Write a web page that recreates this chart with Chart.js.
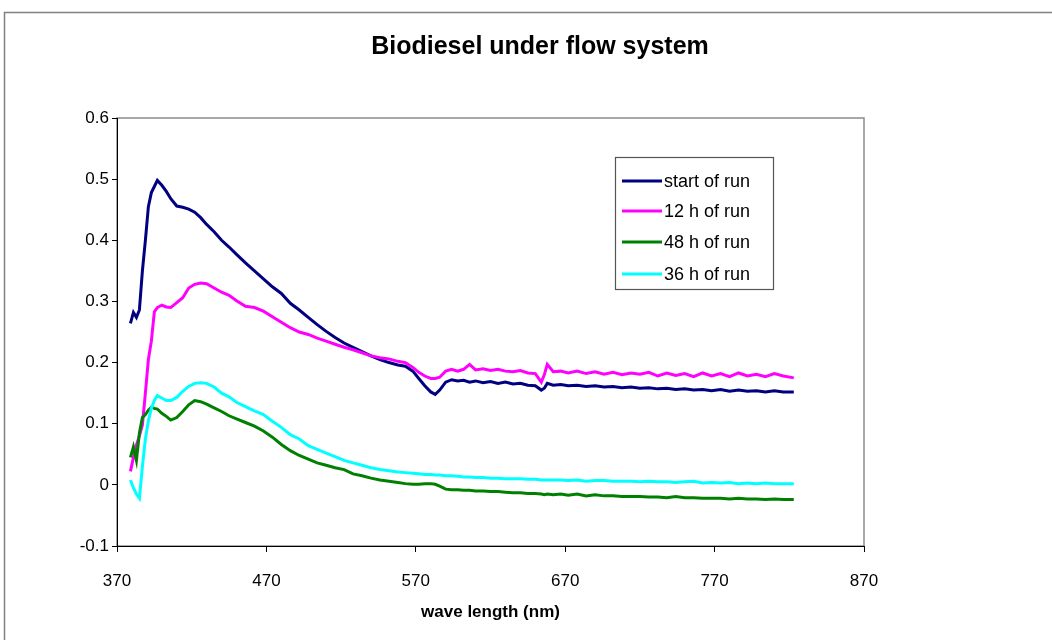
<!DOCTYPE html>
<html>
<head>
<meta charset="utf-8">
<script src="https://cdn.jsdelivr.net/npm/chart.js@4.4.1/dist/chart.umd.min.js"></script>
<style>
  html, body { margin: 0; padding: 0; background: #ffffff; }
  #wrap { width: 1052px; height: 640px; position: relative; }
</style>
</head>
<body>
<div id="wrap"><canvas id="c" width="1052" height="640"></canvas></div>
<script>
// ---- data ----
const chartTitle = "Biodiesel under flow system";
const xAxisTitle = "wave length (nm)";
const seriesNames = ["start of run", "12 h of run", "48 h of run", "36 h of run"];
const xTicks = [370, 470, 570, 670, 770, 870];
const yTicks = [-0.1, 0, 0.1, 0.2, 0.3, 0.4, 0.5, 0.6];

const wavelength = [379, 381, 383, 385, 387, 389, 391, 393, 395, 397, 400, 403, 406, 410, 414, 418, 422, 426, 430, 435,
  440, 445, 450, 456, 462, 468, 474, 480, 486, 492, 498, 504, 510, 516, 522, 528, 534, 540, 546, 552,
  558, 563, 568, 572, 576, 580, 583, 586, 590, 594, 598, 602, 606, 610, 615, 620, 625, 630, 635, 640,
  645, 650, 654, 656, 658, 662, 667, 672, 678, 684, 690, 696, 702, 708, 714, 720, 726, 732, 738, 744,
  750, 756, 762, 768, 774, 780, 786, 792, 798, 804, 810, 816, 823];

const startOfRun = [0.264, 0.282, 0.274, 0.286, 0.350, 0.400, 0.455, 0.478, 0.488, 0.498, 0.490, 0.480, 0.468, 0.456, 0.454, 0.451, 0.446, 0.437, 0.426, 0.414,
  0.400, 0.389, 0.377, 0.363, 0.350, 0.337, 0.324, 0.313, 0.297, 0.286, 0.274, 0.262, 0.251, 0.241, 0.232, 0.225, 0.218, 0.211, 0.205, 0.200,
  0.196, 0.194, 0.186, 0.174, 0.162, 0.152, 0.148, 0.155, 0.168, 0.172, 0.170, 0.171, 0.168, 0.170, 0.167, 0.169, 0.166, 0.168, 0.165, 0.166,
  0.163, 0.162, 0.155, 0.158, 0.166, 0.163, 0.164, 0.162, 0.163, 0.161, 0.162, 0.160, 0.161, 0.159, 0.160, 0.158, 0.159, 0.157, 0.158, 0.156,
  0.157, 0.155, 0.156, 0.154, 0.156, 0.153, 0.155, 0.153, 0.154, 0.152, 0.154, 0.152, 0.152];

const h12OfRun = [0.022, 0.045, 0.065, 0.080, 0.098, 0.150, 0.205, 0.235, 0.283, 0.290, 0.294, 0.291, 0.290, 0.298, 0.306, 0.322, 0.328, 0.330, 0.329, 0.322,
  0.315, 0.310, 0.301, 0.292, 0.290, 0.284, 0.275, 0.266, 0.257, 0.250, 0.246, 0.240, 0.235, 0.230, 0.225, 0.221, 0.216, 0.211, 0.208, 0.206,
  0.202, 0.200, 0.192, 0.184, 0.178, 0.174, 0.174, 0.176, 0.186, 0.189, 0.186, 0.189, 0.197, 0.188, 0.190, 0.187, 0.189, 0.186, 0.185, 0.187,
  0.183, 0.182, 0.168, 0.180, 0.197, 0.185, 0.186, 0.183, 0.186, 0.182, 0.185, 0.181, 0.184, 0.180, 0.183, 0.181, 0.184, 0.178, 0.183, 0.179,
  0.182, 0.177, 0.183, 0.178, 0.182, 0.177, 0.183, 0.178, 0.181, 0.177, 0.182, 0.178, 0.175];

const h48OfRun = [0.045, 0.062, 0.040, 0.085, 0.110, 0.115, 0.122, 0.127, 0.125, 0.124, 0.117, 0.112, 0.106, 0.110, 0.120, 0.131, 0.138, 0.136, 0.132, 0.126,
  0.120, 0.113, 0.108, 0.102, 0.096, 0.088, 0.078, 0.066, 0.056, 0.048, 0.042, 0.036, 0.032, 0.028, 0.025, 0.018, 0.015, 0.011, 0.008, 0.006,
  0.004, 0.002, 0.001, 0.001, 0.002, 0.002, 0.001, -0.002, -0.007, -0.008, -0.008, -0.009, -0.009, -0.010, -0.010, -0.011, -0.011, -0.012, -0.013, -0.013,
  -0.014, -0.014, -0.015, -0.016, -0.015, -0.016, -0.015, -0.017, -0.015, -0.018, -0.016, -0.018, -0.018, -0.019, -0.019, -0.019, -0.020, -0.020, -0.021, -0.019,
  -0.021, -0.021, -0.022, -0.022, -0.022, -0.023, -0.022, -0.023, -0.023, -0.024, -0.023, -0.024, -0.024];

const h36OfRun = [0.008, -0.005, -0.015, -0.022, 0.030, 0.075, 0.105, 0.125, 0.138, 0.146, 0.142, 0.138, 0.138, 0.143, 0.153, 0.161, 0.166, 0.167, 0.166, 0.160,
  0.150, 0.144, 0.135, 0.128, 0.121, 0.115, 0.104, 0.094, 0.082, 0.075, 0.064, 0.058, 0.052, 0.046, 0.040, 0.036, 0.032, 0.028, 0.025, 0.023,
  0.021, 0.020, 0.019, 0.018, 0.017, 0.017, 0.016, 0.016, 0.015, 0.015, 0.014, 0.013, 0.013, 0.012, 0.012, 0.011, 0.011, 0.010, 0.010, 0.010,
  0.009, 0.009, 0.008, 0.008, 0.008, 0.008, 0.008, 0.007, 0.008, 0.006, 0.007, 0.007, 0.006, 0.006, 0.006, 0.005, 0.006, 0.005, 0.005, 0.004,
  0.005, 0.006, 0.003, 0.004, 0.003, 0.004, 0.002, 0.003, 0.002, 0.003, 0.002, 0.002, 0.002];

const seriesValues = [startOfRun, h12OfRun, h48OfRun, h36OfRun];
const seriesColors = ["#000080", "#FF00FF", "#008000", "#00FFFF"];

// ---- chart ----
const FONT = "'Liberation Sans', Arial, Helvetica, sans-serif";

const frame = {
  id: 'frame',
  beforeDraw(chart) {
    const ctx = chart.ctx;
    ctx.save();
    ctx.fillStyle = '#ffffff';
    ctx.fillRect(0, 0, chart.width, chart.height);
    ctx.strokeStyle = '#808080';
    ctx.lineWidth = 1.5;
    ctx.beginPath();
    ctx.moveTo(4.5, chart.height);
    ctx.lineTo(4.5, 12.5);
    ctx.lineTo(chart.width, 12.5);
    ctx.stroke();
    const a = chart.chartArea;
    ctx.strokeStyle = '#8c8c8c';
    ctx.lineWidth = 1.5;
    ctx.strokeRect(a.left, a.top, a.right - a.left, a.bottom - a.top);
    // chart title
    ctx.fillStyle = '#000000';
    ctx.font = 'bold 25px ' + FONT;
    ctx.textAlign = 'center';
    ctx.textBaseline = 'middle';
    ctx.fillText(chartTitle, 540, 47);
    ctx.restore();
  }
};

const boxLegend = {
  id: 'boxLegend',
  afterDraw(chart) {
    const ctx = chart.ctx;
    const x0 = 615, y0 = 157, w = 158, h = 132;
    ctx.save();
    ctx.fillStyle = '#ffffff';
    ctx.fillRect(x0, y0, w, h);
    ctx.strokeStyle = '#555555';
    ctx.lineWidth = 1.2;
    ctx.strokeRect(x0 + 0.5, y0 + 0.5, w, h);
    const rows = [181, 211, 242, 274];
    ctx.font = '18px ' + FONT;
    ctx.textBaseline = 'middle';
    ctx.textAlign = 'left';
    chart.data.datasets.forEach((ds, i) => {
      ctx.strokeStyle = ds.borderColor;
      ctx.lineWidth = 3;
      ctx.beginPath();
      ctx.moveTo(622, rows[i]);
      ctx.lineTo(662, rows[i]);
      ctx.stroke();
      ctx.fillStyle = '#000000';
      ctx.fillText(ds.label, 664, rows[i] + 1);
    });
    ctx.restore();
  }
};

const datasets = seriesNames.map((name, i) => ({
  label: name,
  data: wavelength.map((x, j) => ({ x: x, y: seriesValues[i][j] })),
  borderColor: seriesColors[i],
  backgroundColor: seriesColors[i],
  borderWidth: 3,
  pointRadius: 0,
  tension: 0,
  fill: false,
  order: seriesNames.length - i
}));

new Chart(document.getElementById('c'), {
  type: 'line',
  data: { datasets: datasets },
  plugins: [frame, boxLegend],
  options: {
    responsive: false,
    animation: false,
    devicePixelRatio: 1,
    layout: { padding: { left: 0, right: 188, top: 118, bottom: 0 } },
    plugins: {
      legend: { display: false },
      tooltip: { enabled: false },
      title: { display: false }
    },
    scales: {
      x: {
        type: 'linear',
        min: 370,
        max: 870,
        afterBuildTicks(scale) { scale.ticks = xTicks.map(v => ({ value: v })); },
        afterFit(scale) { scale.height = 94; },
        grid: { display: true, drawOnChartArea: false, drawTicks: true, tickLength: 6, color: '#000000', lineWidth: 1 },
        border: { display: true, color: '#000000', width: 1 },
        ticks: { color: '#000000', font: { family: FONT, size: 17 }, padding: 19, maxRotation: 0, autoSkip: false },
        title: {
          display: true,
          text: xAxisTitle,
          color: '#000000',
          font: { family: FONT, size: 17, weight: 'bold' },
          padding: { top: 0, bottom: 17 }
        }
      },
      y: {
        type: 'linear',
        min: -0.1,
        max: 0.6,
        afterBuildTicks(scale) { scale.ticks = yTicks.map(v => ({ value: v })); },
        afterFit(scale) { scale.width = 117; },
        grid: { display: true, drawOnChartArea: false, drawTicks: true, tickLength: 5, color: '#000000', lineWidth: 1 },
        border: { display: true, color: '#000000', width: 1 },
        ticks: {
          color: '#000000',
          font: { family: FONT, size: 17 },
          padding: 3,
          autoSkip: false,
          callback: (v) => String(Math.round(v * 10) / 10)
        }
      }
    }
  }
});
</script>
</body>
</html>
